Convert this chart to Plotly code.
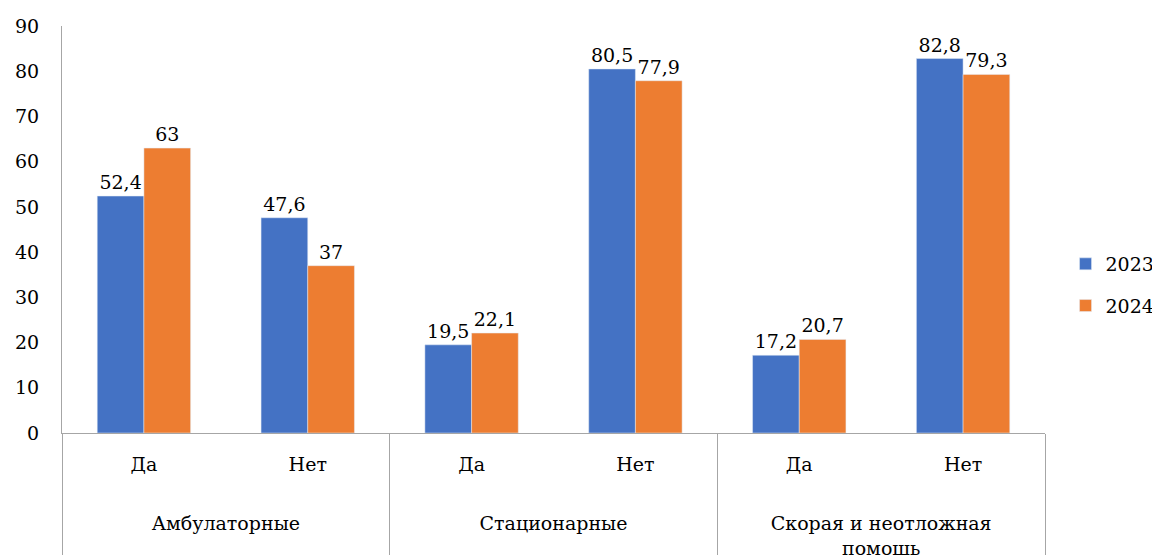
import plotly.graph_objects as go

# данные
groups = ["Амбулаторные", "Амбулаторные", "Стационарные", "Стационарные",
          "Скорая и неотложная<br>помощь", "Скорая и неотложная<br>помощь"]
answers = ["Да", "Нет", "Да", "Нет", "Да", "Нет"]
vals_2023 = [52.4, 47.6, 19.5, 80.5, 17.2, 82.8]
vals_2024 = [63, 37, 22.1, 77.9, 20.7, 79.3]

# из засечных шрифтов в системе есть только DejaVu Serif
FONT = "DejaVu Serif"
FS = 19


def fmt(v):
    return f"{v:g}".replace(".", ",")


# пустые строки сверху, чтобы опустить подписи групп
group_labels = [" <br> <br>" + g for g in groups]

fig = go.Figure()
fig.add_trace(go.Bar(
    x=[group_labels, answers], y=vals_2023, name="2023",
    marker_color="#4472C4", legendgroup="a",
    text=[fmt(v) for v in vals_2023], textposition="outside",
    textfont=dict(size=FS, color="black", family=FONT), cliponaxis=False,
))
fig.add_trace(go.Bar(
    x=[group_labels, answers], y=vals_2024, name="2024",
    marker_color="#ED7D31", legendgroup="b",
    text=[fmt(v) for v in vals_2024], textposition="outside",
    textfont=dict(size=FS, color="black", family=FONT), cliponaxis=False,
))

# страница имеет отступ 8px (body), поэтому поля меньше на 8px
fig.update_layout(
    width=1152, height=547,
    margin=dict(l=54, r=115, t=18, b=122),
    plot_bgcolor="white", paper_bgcolor="white",
    font=dict(family=FONT, size=FS, color="black"),
    barmode="group", bargap=0.43, bargroupgap=0,
    legend=dict(xref="container", yref="container",
                x=0.918, y=0.4936, yanchor="middle", xanchor="left",
                font=dict(size=FS, family=FONT), tracegroupgap=14,
                itemwidth=30),
    showlegend=True,
)
fig.update_xaxes(
    type="multicategory", showline=True, linecolor="#a6a6a6", linewidth=1,
    showdividers=True, dividercolor="#a6a6a6", dividerwidth=1,
    ticks="", tickfont=dict(size=FS, family=FONT), showgrid=False,
    ticklabelstandoff=14, automargin=False,
)
fig.update_yaxes(
    range=[0, 90], dtick=10, showgrid=False, showline=True,
    linecolor="#a6a6a6", linewidth=1, ticks="",
    tickfont=dict(size=FS, family=FONT), ticklabelstandoff=18,
    zeroline=False, automargin=False,
)

fig.write_html("out.html")
